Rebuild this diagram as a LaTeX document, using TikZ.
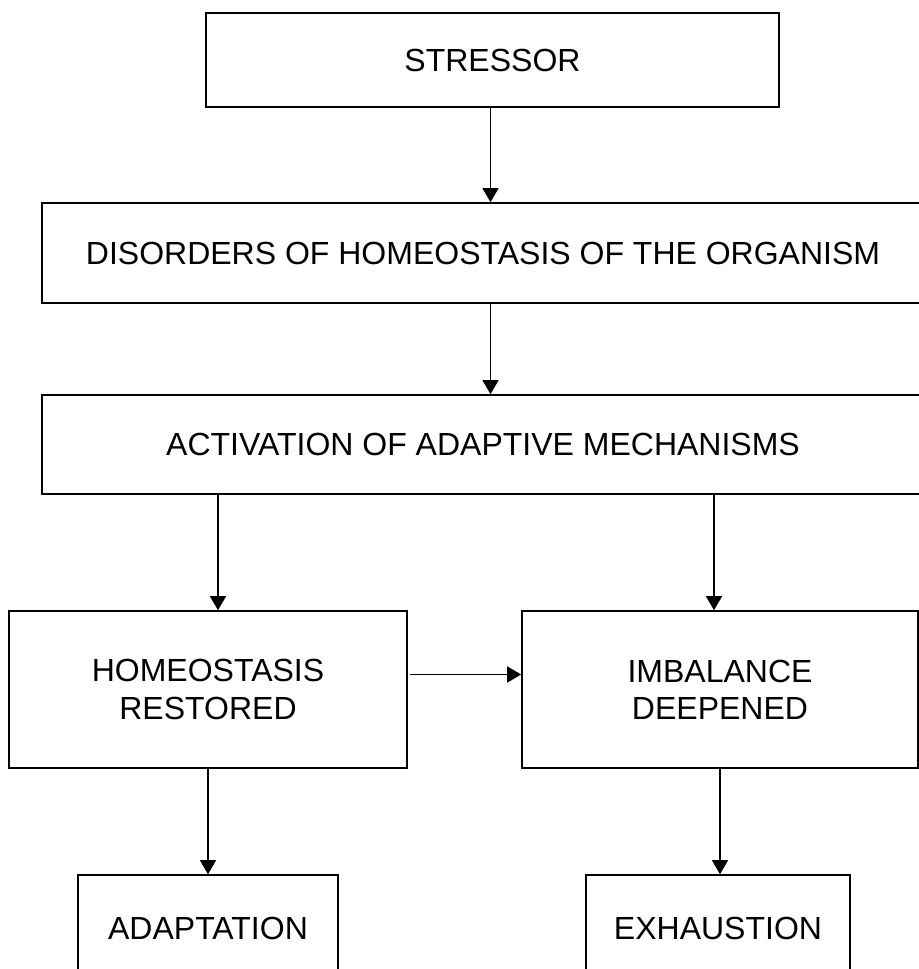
\documentclass[tikz,border=0pt]{standalone}
\usepackage{fontspec}
\setmainfont{Liberation Sans}
\usetikzlibrary{arrows.meta}

\begin{document}
\begin{tikzpicture}[x=0.75pt,y=-0.75pt,
  box/.style={draw, line width=1.2pt, text centered, align=center, inner sep=0pt, font=\fontsize{24}{28}\selectfont},
  arr/.style={line width=1pt, -{Triangle[length=10.5pt,width=12pt]}}]%
\useasboundingbox (0,0) rectangle (919,969);%
\clip (0,0) rectangle (919,969);%
\node[box, minimum width=429.75pt, minimum height=70.5pt] (stressor) at (492.5, 60) {STRESSOR};%
\node[box, minimum width=661.5pt, minimum height=75pt] (disorders) at (483, 253) {DISORDERS OF HOMEOSTASIS OF THE ORGANISM};%
\node[box, minimum width=661.5pt, minimum height=74.25pt] (activation) at (483, 444.5) {ACTIVATION OF ADAPTIVE MECHANISMS};%
\node[box, minimum width=298.5pt, minimum height=117.75pt] (homeo) at (208, 689.5) {HOMEOSTASIS\\RESTORED};%
\node[box, minimum width=297pt, minimum height=117.75pt] (imbalance) at (720, 689.5) {IMBALANCE\\DEEPENED};%
\node[box, minimum width=195pt, minimum height=79.5pt] (adaptation) at (208, 928) {ADAPTATION};%
\node[box, minimum width=198pt, minimum height=79.5pt] (exhaustion) at (718, 928) {EXHAUSTION};%
\path (stressor.south) ++(-2,0) coordinate (sout);%
\path (homeo.north) ++(10,0) coordinate (hin);%
\path (imbalance.north) ++(-6,0) coordinate (iin);%
\draw[arr] (sout) -- (sout |- disorders.north);%
\draw[arr] (sout |- disorders.south) -- (sout |- activation.north);%
\draw[arr] (hin |- activation.south) -- (hin);%
\draw[arr] (iin |- activation.south) -- (iin);%
\draw[arr] ([yshift=11.25pt]homeo.east) ++(2,0) -- ([yshift=11.25pt]imbalance.west);%
\draw[arr] (homeo.south) -- (homeo.south |- adaptation.north);%
\draw[arr] (imbalance.south) -- (imbalance.south |- exhaustion.north);%
\end{tikzpicture}
\end{document}
